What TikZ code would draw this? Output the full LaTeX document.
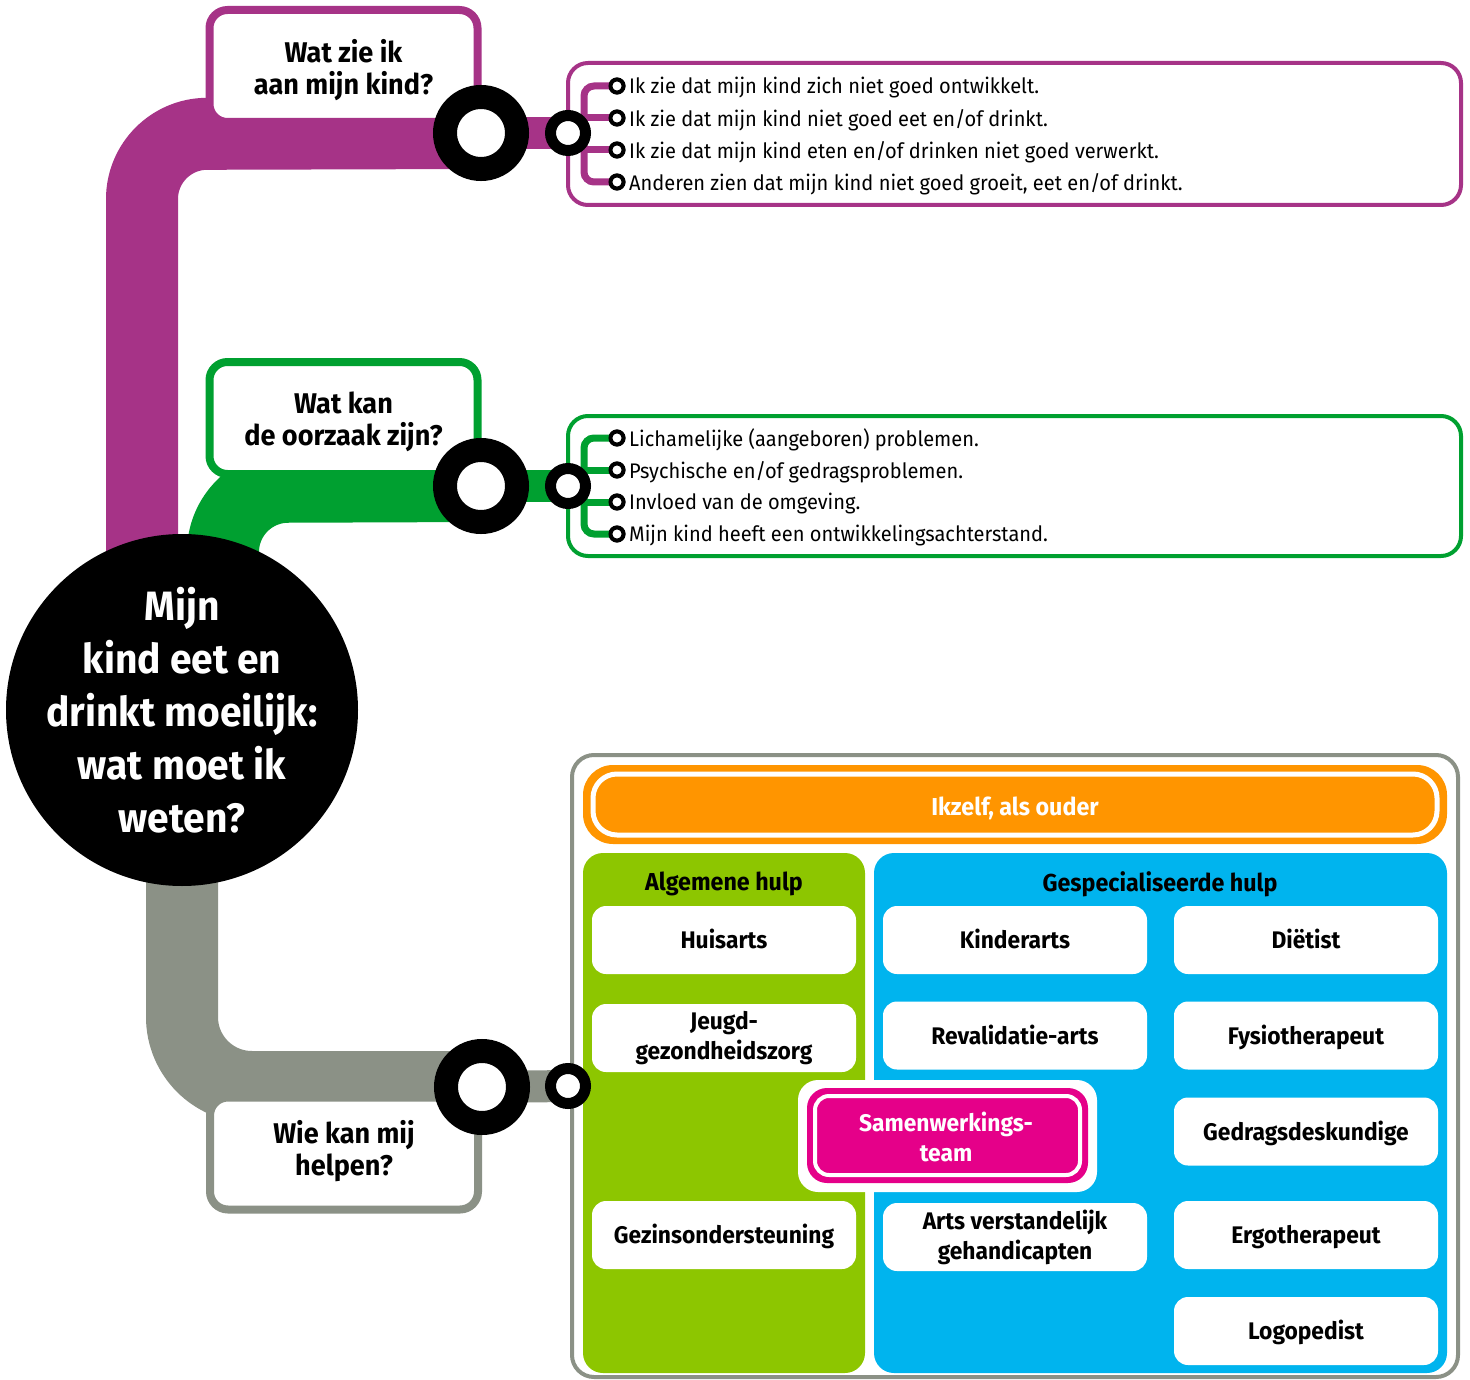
\documentclass[tikz,border=0pt]{standalone}
\usepackage{fontspec}
\setmainfont{Fira Sans}[FakeStretch=0.95]
\definecolor{cPurple}{RGB}{166,51,135}
\definecolor{cGreen}{RGB}{0,160,48}
\definecolor{cGray}{RGB}{139,145,134}
\definecolor{cLime}{RGB}{141,198,0}
\definecolor{cBlue}{RGB}{0,180,238}
\definecolor{cOrange}{RGB}{255,149,0}
\definecolor{cMagenta}{RGB}{229,0,137}
\tikzset{
  qbox/.style={draw, line width=8pt, fill=white, rounded corners=18pt, minimum width=268pt, minimum height=112pt, inner sep=0pt},
  qtext/.style={align=center, font=\fontsize{28.5}{32}\selectfont\bfseries, inner sep=0pt},
  band/.style={line width=72pt, rounded corners=65pt},
  bigring/.style={circle, draw=black, line width=24pt, fill=white, minimum size=72pt, inner sep=0pt},
  smallring/.style={circle, draw=black, line width=11pt, fill=white, minimum size=35pt, inner sep=0pt},
  bullet/.style={circle, draw=black, line width=4pt, fill=white, minimum size=13pt, inner sep=0pt},
  item/.style={anchor=west, font=\fontsize{21.1}{24}\selectfont, inner sep=0pt},
  listbox/.style={line width=4pt, rounded corners=20pt},
  brack/.style={line width=7pt, rounded corners=10pt},
  wbox/.style={fill=white, rounded corners=14pt, minimum width=264pt, minimum height=68pt, font=\fontsize{24}{30}\selectfont\bfseries, align=center, inner sep=0pt},
  one/.style={text height=20pt, text depth=3pt},
  head/.style={font=\fontsize{24.5}{30}\selectfont\bfseries, inner sep=0pt}
}
\begin{document}
\begin{tikzpicture}[x=1pt,y=-1pt]
\useasboundingbox (0,0) rectangle (1470,1380);

\coordinate (pc) at (142,134);
\coordinate (pend) at (142,620);
\coordinate (gc) at (223,487);
\coordinate (gend) at (223,620);
\coordinate (ystart) at (182,800);
\coordinate (yc) at (182,1087);
\coordinate (r1a) at (481,133);
\coordinate (r1b) at (568,133);
\coordinate (r2a) at (481,486);
\coordinate (r2b) at (568,486);
\coordinate (r3a) at (482,1087);
\coordinate (r3b) at (568,1086);

% ---- bands
\draw[cPurple, band] (r1a) -- (pc) -- (pend);
\draw[cGreen, band] (r2a) -- (gc) -- (gend);
\draw[cGray, band, rounded corners=70pt] (ystart) -- (yc) -- (r3a);

% ---- question boxes
\node[qbox, draw=cPurple] (q1) at (343.5,66) {};
\node[qtext] (q1t) at ([yshift=-4pt]q1.center) {Wat zie ik\\aan mijn kind?};
\node[qbox, draw=cGreen] (q2) at (343.5,418) {};
\node[qtext] (q2t) at ([yshift=-4pt]q2.center) {Wat kan\\de oorzaak zijn?};
\node[qbox, draw=cGray] (q3) at (344,1153.5) {};
\node[qtext] (q3t) at ([yshift=2pt]q3.center) {Wie kan mij\\helpen?};

% ---- list boxes
\draw[cPurple, listbox] (568,63) rectangle (1461,205);
\draw[cGreen, listbox] (568,416) rectangle (1461,556);

% ---- help panel
\draw[cGray, line width=4pt, rounded corners=22pt] (572,755) rectangle (1458,1377);
\fill[cOrange, rounded corners=30pt] (583,765) rectangle (1447,844);
\draw[white, line width=5pt, rounded corners=24pt] (593,774) rectangle (1437,835);
\node[head, text=white] (ouder) at (1015,808) {Ikzelf, als ouder};
\fill[cLime, rounded corners=20pt] (583,853) rectangle (865,1373);
\fill[cBlue, rounded corners=20pt] (874,853) rectangle (1447,1373);
\node[head] (alg) at (724,884) {Algemene hulp};
\node[head] (spec) at (1160,884) {Gespecialiseerde hulp};

\node[wbox, one] (huisarts) at (724,940) {Huisarts};
\node[wbox] (jgz) at (724,1038) {Jeugd-\\gezondheidszorg};
\node[wbox, one] (gezin) at (724,1235) {Gezinsondersteuning};
\node[wbox, one] (kinder) at (1015,940) {Kinderarts};
\node[wbox, one] (reva) at (1015,1035.5) {Revalidatie-arts};
\node[wbox] (avg) at (1015,1237) {Arts verstandelijk\\gehandicapten};
\node[wbox, one] (diet) at (1306,940) {Diëtist};
\node[wbox, one] (fysio) at (1306,1035.5) {Fysiotherapeut};
\node[wbox, one] (gedrag) at (1306,1131.5) {Gedragsdeskundige};
\node[wbox, one] (ergo) at (1306,1235) {Ergotherapeut};
\node[wbox, one] (logo) at (1306,1331) {Logopedist};

\fill[white, rounded corners=20pt] (798,1080) rectangle (1097,1192);
\fill[cMagenta, rounded corners=20pt] (807,1088) rectangle (1088,1183);
\draw[white, line width=4pt, rounded corners=14pt] (815,1096) rectangle (1080,1175);
\node[head, text=white, align=center, font=\fontsize{24}{30}\selectfont\bfseries] (samen) at (946,1137) {Samenwerkings-\\team};

% ---- bracket lines and items (purple)
\node[bullet] (p1b) at (617,86) {};
\node[bullet] (p2b) at (617,118) {};
\node[bullet] (p3b) at (617,150) {};
\node[bullet] (p4b) at (617,182) {};
\draw[cPurple, brack] (p1b.center) -- ++(-33,0) |- (p4b.center);
\draw[cPurple, brack] (p2b.center) -- ++(-33,0);
\draw[cPurple, brack] (p3b.center) -- ++(-33,0);
\node[bullet] at (p1b) {};
\node[bullet] at (p2b) {};
\node[bullet] at (p3b) {};
\node[bullet] at (p4b) {};
\node[item] (p1) at (629,88) {Ik zie dat mijn kind zich niet goed ontwikkelt.};
\node[item] (p2) at (629,120) {Ik zie dat mijn kind niet goed eet en/of drinkt.};
\node[item] (p3) at (629,152) {Ik zie dat mijn kind eten en/of drinken niet goed verwerkt.};
\node[item] (p4) at (629,184) {Anderen zien dat mijn kind niet goed groeit, eet en/of drinkt.};

% ---- bracket lines and items (green)
\node[bullet] (g1b) at (617,438) {};
\node[bullet] (g2b) at (617,470) {};
\node[bullet] (g3b) at (617,502) {};
\node[bullet] (g4b) at (617,534) {};
\draw[cGreen, brack] (g1b.center) -- ++(-33,0) |- (g4b.center);
\draw[cGreen, brack] (g2b.center) -- ++(-33,0);
\draw[cGreen, brack] (g3b.center) -- ++(-33,0);
\node[bullet] at (g1b) {};
\node[bullet] at (g2b) {};
\node[bullet] at (g3b) {};
\node[bullet] at (g4b) {};
\node[item] (g1) at (629,440) {Lichamelijke (aangeboren) problemen.};
\node[item] (g2) at (629,472) {Psychische en/of gedragsproblemen.};
\node[item] (g3) at (629,504) {Invloed van de omgeving.};
\node[item] (g4) at (629,536) {Mijn kind heeft een ontwikkelingsachterstand.};

% ---- rings and connecting bars
\draw[cPurple, line width=32pt] (r1a) -- (r1b);
\draw[cGreen, line width=32pt] (r2a) -- (r2b);
\draw[cGray, line width=32pt] (r3a) -- (r3b);
\node[bigring] (R1a) at (r1a) {};
\node[smallring] (R1b) at (r1b) {};
\node[bigring] (R2a) at (r2a) {};
\node[smallring] (R2b) at (r2b) {};
\node[bigring] (R3a) at (r3a) {};
\node[smallring] (R3b) at (r3b) {};

% ---- main circle
\node[circle, fill=black, minimum size=352pt, inner sep=0pt] (main) at (182,710) {};
\node[text=white, align=center, inner sep=0pt,
  font=\fontsize{41}{53}\selectfont\bfseries] (maintext) at (main.center)
  {Mijn\\kind eet en\\drinkt moeilijk:\\wat moet ik\\weten?};
\end{tikzpicture}
\end{document}
